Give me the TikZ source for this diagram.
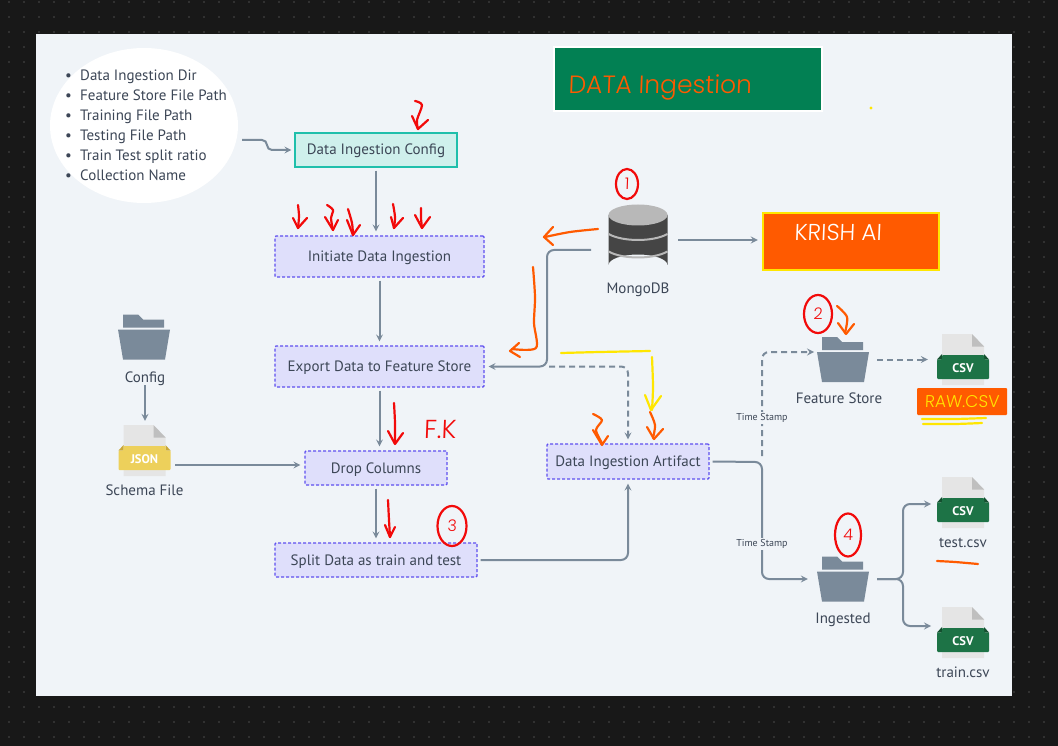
\documentclass[tikz,border=0pt]{standalone}
\usepackage{fontspec}
\setmainfont{PT Sans}
\newfontfamily\handfont[FakeSlant=0.04]{Poppins Light}
\usetikzlibrary{shapes.geometric}
\definecolor{boardc}{HTML}{181818}
\definecolor{sheetc}{HTML}{F0F4F8}
\definecolor{linec}{HTML}{7A8A9A}
\definecolor{labelc}{HTML}{3C4656}
\definecolor{taskc}{HTML}{DFDFFB}
\definecolor{taskb}{HTML}{5F4FF0}
\definecolor{confc}{HTML}{CFF0EC}
\definecolor{confb}{HTML}{1FBFAB}
\definecolor{penred}{HTML}{F20A0A}
\definecolor{penorange}{HTML}{FF5A00}
\definecolor{penyellow}{HTML}{FFE600}
\definecolor{titlec}{HTML}{028053}
\definecolor{csvc}{HTML}{1D7346}
\definecolor{csvd}{HTML}{14502F}
\definecolor{jsonc}{HTML}{EDD05B}
\definecolor{jsond}{HTML}{C9A838}
\tikzset{
	txt/.style={text=labelc,inner sep=0pt,text height=10pt,text depth=0pt,font=\fontsize{15}{16}\selectfont},
	task/.style={txt,draw=taskb,fill=taskc,line width=1.1pt,dash pattern=on 3pt off 2pt,rounded corners=1pt,minimum width=#1},
	link/.style={->,draw=linec,line width=2pt,rounded corners=7pt,shorten >=4pt,shorten <=3pt},
	dlink/.style={link,dash pattern=on 6pt off 4pt},
	hold/.style={inner sep=0pt,minimum width=#1},
	stamp/.style={text=labelc,fill=sheetc,inner sep=1pt,font=\fontsize{10}{11}\selectfont},
	hand/.style={line width=2.2pt,line cap=round,line join=round},
	ring/.style={draw=penred,ellipse,hand,text=penred,inner sep=0pt,font=\handfont\fontsize{16}{16}\selectfont},
	pics/folderic/.style={code={
		\fill[linec] (-21,-22.5)--(-6,-22.5)--(-1,-17.5)--(20,-17.5)--(20,-9.5)--(-21,-9.5)--cycle;
		\fill[linec] (-26,-7.5)--(26,-7.5)--(21,22.5)--(-21,22.5)--cycle;
	}},
	pics/docic/.style n args={3}{code={
		\fill[gray!20] (-21,-25.5)--(9,-25.5)--(21,-13)--(21,25.5)--(-21,25.5)--cycle;
		\fill[gray!50] (9,-25.5)--(21,-13)--(9,-13)--cycle;
		\fill[#2] (-21,-5.5)--(-26,0)--(-21,0)--cycle;
		\fill[#2] (21,-5.5)--(26,0)--(21,0)--cycle;
		\fill[#1,rounded corners=1pt] (-21,-4.5)--(21,-4.5)--(21,0)--(26,0)--(26,19.5)--(-26,19.5)--(-26,0)--(-21,0)--cycle;
		\node[text=white,inner sep=0pt,font=\bfseries\fontsize{12.5}{13}\selectfont] (-tag) at (0,8.5) {#3};
	}},
	pics/dbic/.style={code={
		\fill[black!73] (-29.5,-25) -- (-29.5,25) arc[start angle=180,end angle=360,x radius=29.5,y radius=10.5] -- (29.5,-25) -- cycle;
		\fill[black!28] (0,-25) ellipse[x radius=29.5,y radius=10.5];
		\draw[black!28,line width=2pt] (-29.5,-6) .. controls (-15,2) and (15,2) .. (29.5,-6);
		\draw[black!28,line width=2pt] (-29.5,11.5) .. controls (-15,19.5) and (15,19.5) .. (29.5,11.5);
	}},
}
\newcommand{\handarrow}[3]{
	\draw[hand,#1] plot[smooth] coordinates {#2};
	\draw[hand,#1] #3;
}
\begin{document}
\begin{tikzpicture}[x=1pt,y=-1pt,>=stealth]
	\useasboundingbox (0,0) rectangle (1058,746);
	\fill[boardc] (0,0) rectangle (1058,746);
	\foreach \x in {9,24,...,1058}{
		\foreach \y in {2,17,...,746}{
			\fill[white!22!boardc] (\x,\y) circle(0.9);
		}
	}
	\fill[sheetc] (36,34) rectangle (1012,696);

	% config bubble
	\fill[white] (144,125.5) ellipse[x radius=94,y radius=77.5];
	\foreach \y/\t in {76/Data Ingestion Dir,96/Feature Store File Path,116/Training File Path,136/Testing File Path,156/Train Test split ratio,176/Collection Name}{
		\node[txt,anchor=west] (item\y) at (65,\y) {\makebox[15pt][l]{•}\t};
	}
	\coordinate (bubbleout) at (239,140);

	% main column
	\node[txt,draw=confb,fill=confc,line width=1.1pt,minimum width=162pt,minimum height=34pt] (config) at (376,150) {Data Ingestion Config};
	\node[task=209pt,minimum height=41pt] (initiate) at (379.5,256.5) {Initiate Data Ingestion};
	\node[task=209pt,minimum height=41pt] (export) at (379.5,366.5) {Export Data to Feature Store};
	\node[task=142pt,minimum height=34pt] (drop) at (376,468) {Drop Columns};
	\node[task=202pt,minimum height=34pt] (split) at (376,560) {Split Data as train and test};
	\node[task=162pt,minimum height=35pt] (artifact) at (628,461.5) {Data Ingestion Artifact};

	% icons
	\pic at (144,337) {folderic};
	\node[txt] (configname) at (145,377) {Config};
	\pic (schemaic) at (144.5,450.5) {docic={jsonc}{jsond}{JSON}};
	\node[hold=62pt,minimum height=51pt] (schema) at (144.5,450.5) {};
	\node[txt] (schemaname) at (144.5,490) {Schema File};
	\coordinate (schemaout) at (172,465);

	\pic at (638,240) {dbic};
	\node[hold=75pt,minimum height=71pt] (mongo) at (637.5,240) {};
	\node[txt] (mongoname) at (638,289) {MongoDB};
	\coordinate (mongoout) at (594,250);
	\coordinate (mbend) at (547,366.5);

	\node[draw=penyellow,fill=penorange,line width=2.5pt,minimum width=176pt,minimum height=57pt,inner sep=0pt] (krish) at (851,241.5) {};
	\node[text=white,inner sep=0pt,font=\handfont\fontsize{23}{23}\selectfont] (krishname) at (838,232) {KRISH AI};

	\pic at (843,359.5) {folderic};
	\node[hold=62pt,minimum height=45pt] (store) at (843,359.5) {};
	\node[txt] (storename) at (839,398) {Feature Store};
	\coordinate (storein) at (815,352);
	\pic at (843,579) {folderic};
	\node[hold=62pt,minimum height=45pt] (ingested) at (843,579) {};
	\node[txt] (ingestedname) at (843,618) {Ingested};

	\pic (rawic) at (963,359.5) {docic={csvc}{csvd}{CSV}};
	\node[hold=62pt,minimum height=51pt] (rawfile) at (963,359.5) {};
	\pic (testic) at (963,502.5) {docic={csvc}{csvd}{CSV}};
	\node[hold=62pt,minimum height=51pt] (testfile) at (963,502.5) {};
	\node[txt] (testname) at (963,542) {test.csv};
	\pic (trainic) at (963,632.5) {docic={csvc}{csvd}{CSV}};
	\node[hold=62pt,minimum height=51pt] (trainfile) at (963,632.5) {};
	\node[txt] (trainname) at (963,672) {train.csv};
	\coordinate (testin) at (935,504);
	\coordinate (trainin) at (935,626);
	\coordinate (fork) at (903,579);
	\coordinate (busa) at (762,462);

	% connectors
	\draw[link,rounded corners=5pt,shorten >=3pt] (bubbleout) -- ++(28,0) -- ++(0,10) -- (config.west);
	\draw[link] (config.south) -- (config.south |- initiate.north);
	\draw[link] (initiate) -- (export);
	\draw[link] (export.south) -- (export.south |- drop.north);
	\draw[link] (drop.south) -- (drop.south |- split.north);
	\draw[link] (configname.south) -- (configname.south |- schema.north);
	\draw[link] (schemaout) -- (schemaout -| drop.west);
	\draw[link] (split.east) -| (artifact.south);
	\draw[link] (mongo.east) -- (krish.west |- mongo.east);
	\draw[link] (mongoout) -| (mbend) -- (export.east);
	\draw[dlink,shorten <=2pt] (mbend) -| (artifact.north);
	\draw[link] (artifact.east) -- (busa) |- (ingested.west);
	\draw[dlink,shorten <=6pt,shorten >=1pt] (busa) |- (storein);
	\draw[dlink] (store.east) -- (rawfile.west |- store.east);
	\draw[link] (ingested.east) -- (fork) |- (testin);
	\draw[link] (ingested.east) -- (fork) |- (trainin);
	\node[stamp] (stampa) at (762,418) {Time Stamp};
	\node[stamp] (stampb) at (762,544) {Time Stamp};

	% title and raw label
	\node[draw=white,fill=titlec,line width=2pt,minimum width=268pt,minimum height=64pt,inner sep=0pt] (title) at (688,79) {};
	\node[text=penorange,inner sep=0pt,font=\handfont\fontsize{25}{25}\selectfont] (titletext) at (660,87) {DATA Ingestion};
	\node[fill=penorange,rounded corners=1pt,minimum width=90pt,minimum height=27pt,inner sep=0pt,text=penyellow,font=\handfont\fontsize{17}{17}\selectfont] (rawname) at (962,401.5) {RAW.CSV};
	\fill[penyellow] (871,108) circle(1.6);

	% pen marks
	\handarrow{penred}{(415,101) (422,105) (417,120) (418,129)}{(412,116)--(418,129)--(428,120)}
	\handarrow{penred}{(298,205) (299,216) (298,228)}{(293,218)--(298,228)--(307,218)}
	\handarrow{penred}{(327,205) (333,210) (331,218) (333,230)}{(325,217)--(333,230)--(338,220)}
	\handarrow{penred}{(348,209) (352,223) (353,235)}{(347,220)--(353,235)--(360,225)}
	\handarrow{penred}{(393,204) (395,217) (394,228)}{(391,217)--(394,228)--(403,218)}
	\handarrow{penred}{(421,208) (421,218) (422,228)}{(415,215)--(422,228)--(430,217)}
	\handarrow{penred}{(394,403) (395,423) (395,443)}{(388,431)--(395,444)--(403,433)}
	\handarrow{penred}{(388,500) (389,520) (390,537)}{(385,525)--(390,537)--(395,527)}
	\handarrow{penorange}{(598,229) (570,232) (545,237)}{(553,227)--(544,237)--(553,245)}
	\handarrow{penorange}{(533,267) (535,297) (534,323) (536,348) (512,349)}{(519,343)--(510,351)--(520,357)}
	\handarrow{penorange}{(837,306) (847,317) (845,333)}{(838,323)--(846,334)--(854,324)}
	\handarrow{penyellow}{(652,357) (653,387) (652,410)}{(645,395)--(651,410)--(661,396)}
	\draw[hand,penyellow] plot[smooth] coordinates {(561,353) (600,352) (650,351)};
	\handarrow{penorange}{(593,414) (602,420) (596,430) (602,443)}{(593,430)--(602,445)--(608,436)}
	\handarrow{penorange}{(650,412) (655,425) (653,438)}{(647,427)--(654,439)--(663,429)}
	\draw[hand,penyellow] plot[smooth] coordinates {(922,419) (955,419) (986,418)};
	\draw[hand,penyellow] plot[smooth] coordinates {(923,424) (955,424) (982,423)};
	\draw[hand,penorange] plot[smooth] coordinates {(937,561) (955,562) (978,564)};
	\node[ring,minimum width=22pt,minimum height=30pt] (one) at (627,184) {1};
	\node[ring,minimum width=28pt,minimum height=38pt] (two) at (818,314) {2};
	\node[ring,minimum width=29pt,minimum height=40pt] (three) at (452,526) {3};
	\node[ring,minimum width=26pt,minimum height=43pt] (four) at (848,535) {4};
	\node[text=penred,inner sep=0pt,font=\handfont\fontsize{26}{26}\selectfont] (fk) at (440,429) {F.K};
\end{tikzpicture}
\end{document}
